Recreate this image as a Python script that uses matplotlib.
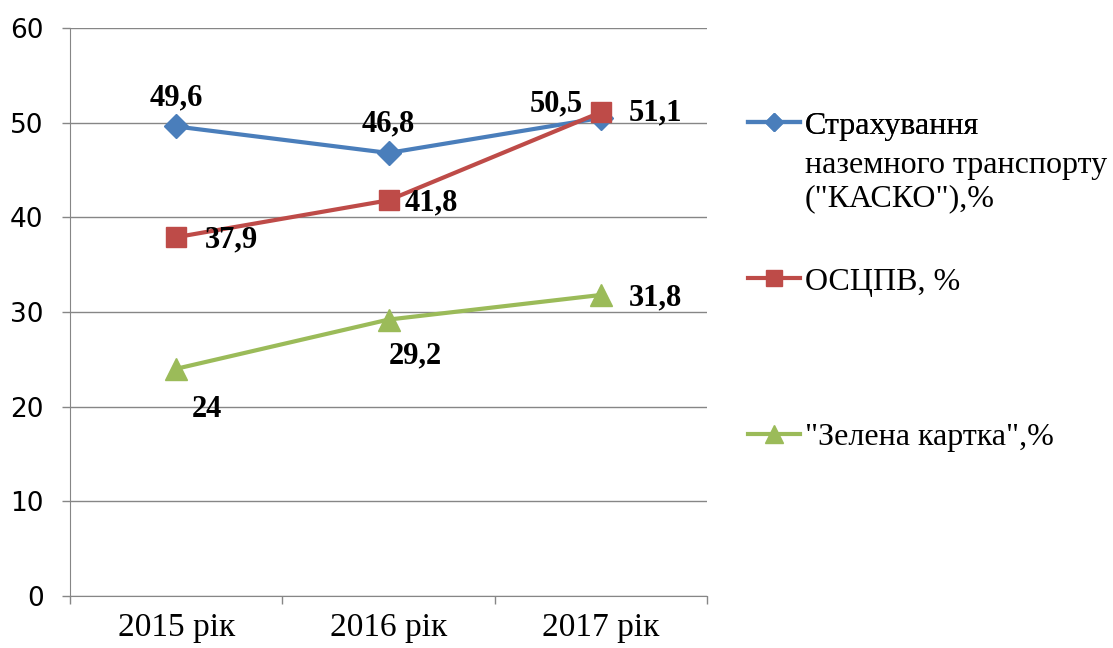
import numpy as np
import matplotlib
matplotlib.use('Agg')
import matplotlib.pyplot as plt

# дані з діаграми
years = ['2015 рік', '2016 рік', '2017 рік']
kasko = [49.6, 46.8, 50.5]
oscpv = [37.9, 41.8, 51.1]
green_card = [24, 29.2, 31.8]
kasko_lbl = ['49,6', '46,8', '50,5']
oscpv_lbl = ['37,9', '41,8', '51,1']
green_lbl = ['24', '29,2', '31,8']

c_blue = '#4A7EBB'
c_red = '#BE4B48'
c_green = '#9BBB59'
grid_c = '#868686'
serif = 'Liberation Serif'
plt.rcParams['font.family'] = 'DejaVu Sans'

fig = plt.figure(figsize=(11.13, 6.48), dpi=100)
ax = fig.add_axes([70/1113, 1-596/648, 637/1113, 568/648])

x = np.arange(len(years))
l1, = ax.plot(x, kasko, color=c_blue, lw=3, marker='D', ms=12, zorder=3)
l2, = ax.plot(x, oscpv, color=c_red, lw=3, marker='s', ms=15, zorder=3)
l3, = ax.plot(x, green_card, color=c_green, lw=3, marker='^', ms=16, zorder=3)

ax.set_xlim(-0.5, 2.5)
ax.set_ylim(0, 60)
ax.set_yticks(range(0, 61, 10))
ax.yaxis.grid(True, color=grid_c, lw=1)
ax.set_axisbelow(True)

ax.set_xticks(x)
ax.set_xticklabels(years, fontfamily=serif, fontsize=24)
ax.set_xticks([-0.5, 0.5, 1.5, 2.5], minor=True)
ax.tick_params(axis='x', which='major', length=0, pad=12)
ax.tick_params(axis='x', which='minor', length=6, color=grid_c, width=1)
ax.tick_params(axis='y', length=6, color=grid_c, width=1, pad=13, labelsize=19)

for s in ['top', 'right']:
    ax.spines[s].set_visible(False)
ax.spines['left'].set_color(grid_c)
ax.spines['bottom'].set_color(grid_c)

# підписи значень (зміщення в пікселях)
offsets = {
    'k': [(0, 29), (0, 29), (-45, 14)],
    'o': [(55, -3), (43, -3), (55, -1)],
    'g': [(31, -41), (27, -36), (55, -3)],
}
lab_kw = dict(textcoords='offset pixels', ha='center', va='center',
              fontfamily=serif, fontsize=22, fontweight='bold')
for i in range(3):
    ax.annotate(kasko_lbl[i], (x[i], kasko[i]), xytext=offsets['k'][i], **lab_kw)
    ax.annotate(oscpv_lbl[i], (x[i], oscpv[i]), xytext=offsets['o'][i], **lab_kw)
    ax.annotate(green_lbl[i], (x[i], green_card[i]), xytext=offsets['g'][i], **lab_kw)

# легенда
leg_kw = dict(loc='center left', frameon=False, borderpad=0, borderaxespad=0,
              handlelength=1.63, handletextpad=0.15, markerscale=0.8,
              prop={'family': serif, 'size': 23})
lg1 = fig.legend([l1], ['Страхування'], bbox_to_anchor=(748/1113, 1-126/648), **leg_kw)
fig.legend([l2], ['ОСЦПВ, %'], bbox_to_anchor=(748/1113, 1-282/648), **leg_kw)
fig.legend([l3], ['"Зелена картка",%'], bbox_to_anchor=(748/1113, 1-437/648), **leg_kw)
fig.add_artist(lg1)
fig.text(805/1113, 1-182/648, 'наземного транспорту\n("КАСКО"),%', ha='left', va='center',
         fontfamily=serif, fontsize=23, linespacing=1.22)

fig.savefig('out.png', dpi=100)
